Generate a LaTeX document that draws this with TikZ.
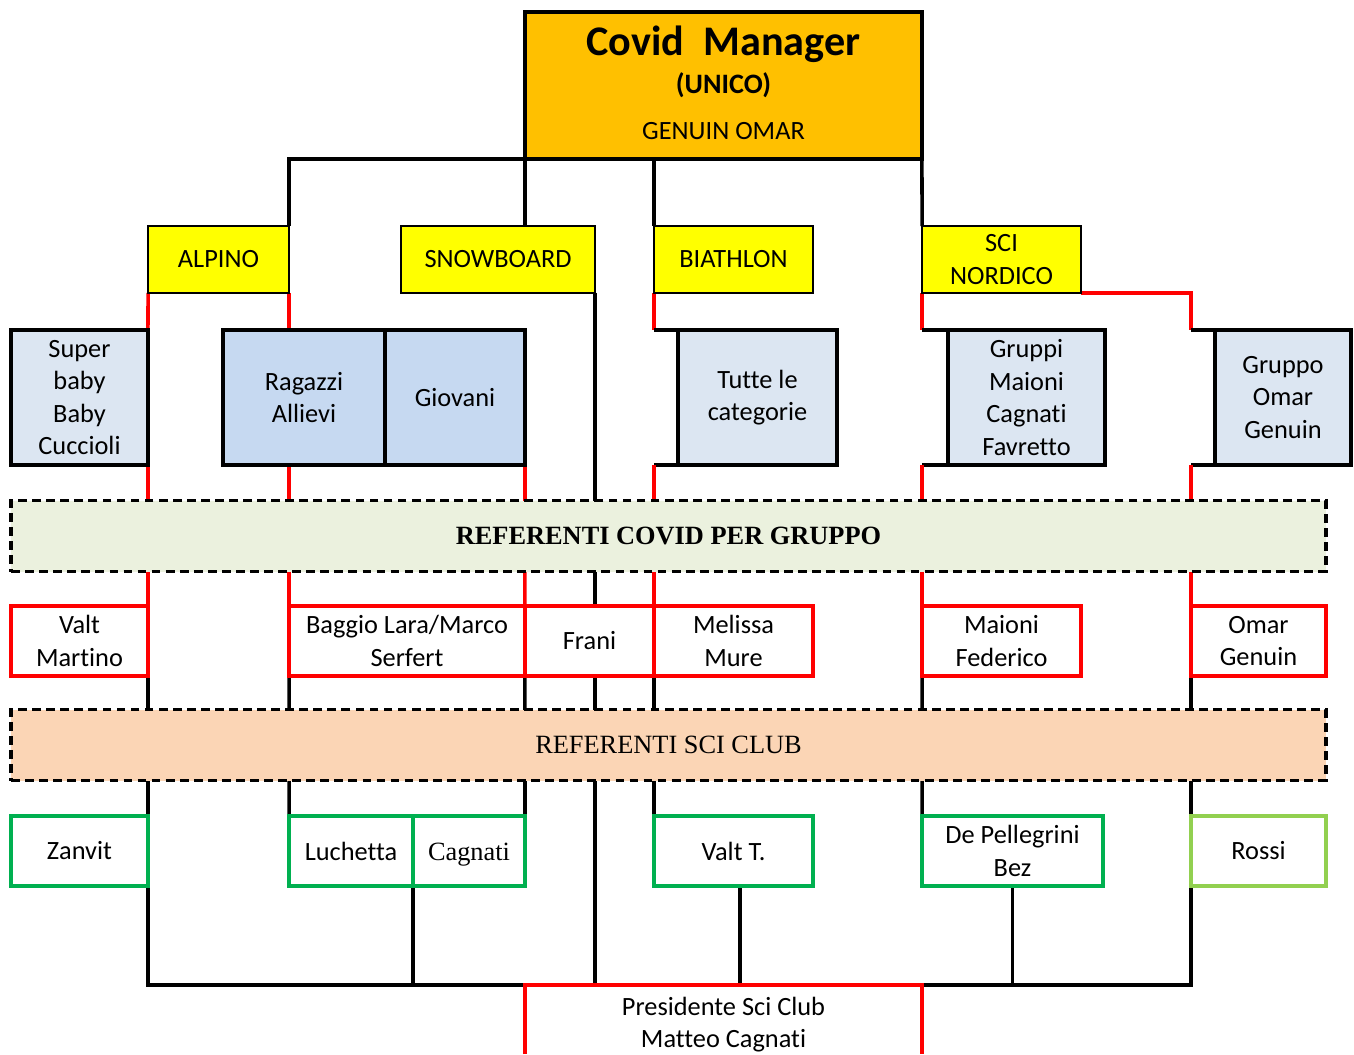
\documentclass[tikz,border=0pt]{standalone}
\usepackage{fontspec}
\setmainfont{Carlito}[Ligatures=NoCommon]
\newfontfamily\timesfont{Liberation Serif}
\usetikzlibrary{backgrounds}

\definecolor{mgrorange}{HTML}{FFC000}
\definecolor{sportyellow}{HTML}{FFFF00}
\definecolor{catpale}{HTML}{DCE6F2}
\definecolor{catblue}{HTML}{C6D9F1}
\definecolor{covidgreen}{HTML}{EBF1DE}
\definecolor{clubpeach}{HTML}{FBD5B5}
\definecolor{refred}{HTML}{FF0000}
\definecolor{clubgreen}{HTML}{00B050}
\definecolor{clublight}{HTML}{92D050}

\begin{document}
\begin{tikzpicture}[x=0.02cm, y=-0.02cm,
    every node/.style={font=\fontsize{15}{18.5}\selectfont, align=center,
      inner sep=0pt, outer sep=0pt},
    sportbox/.style={draw=black, line width=1pt, fill=sportyellow, minimum height=1.34cm},
    catbox/.style={draw=black, line width=2.2pt, minimum height=2.7cm},
    covidbox/.style={draw=refred, line width=2pt, fill=white, minimum height=1.4cm},
    clubbox/.style={draw=clubgreen, line width=2pt, fill=white, minimum height=1.4cm},
    bandbox/.style={draw=black, line width=2pt, dash pattern=on 5pt off 3pt,
      minimum width=26.3cm, minimum height=1.42cm},
    blackline/.style={draw=black, line width=2pt},
    redline/.style={draw=refred, line width=2pt}]
    \useasboundingbox (0,0) rectangle (1354,1054);
    % manager
    \node[draw, line width=2pt, fill=mgrorange, minimum width=7.94cm, minimum height=2.94cm]
    (manager) at (723.5,85.5)
    {{\fontsize{24}{28}\selectfont\bfseries Covid\ \ Manager}\\[3.5pt]
     {\fontsize{16}{19}\selectfont\bfseries (UNICO)}\\[7.5pt]
     GENUIN OMAR\rule[-3.5pt]{0pt}{0pt}};
    % disciplines
    \node[sportbox, minimum width=2.82cm] (alpino)    at (218.5,259.5)  {ALPINO};
    \node[sportbox, minimum width=3.88cm] (snowboard) at (498,259.5)    {SNOWBOARD};
    \node[sportbox, minimum width=3.18cm] (biathlon)  at (733.5,259.5)  {BIATHLON};
    \node[sportbox, minimum width=3.18cm] (nordico)   at (1001.5,259.5) {SCI\\NORDICO};
    % categories
    \node[catbox, fill=catpale, minimum width=2.74cm] (superbaby) at (79.5,397.5)   {Super\\baby\\Baby\\Cuccioli};
    \node[catbox, fill=catblue, minimum width=3.24cm] (ragazzi)   at (304,397.5)    {Ragazzi\\Allievi};
    \node[catbox, fill=catblue, minimum width=2.8cm]  (giovani)   at (455,397.5)    {Giovani};
    \node[catbox, fill=catpale, minimum width=3.18cm] (tutte)     at (757.5,397.5)  {Tutte le\\categorie};
    \node[catbox, fill=catpale, minimum width=3.14cm] (gruppi)    at (1026.5,397.5) {Gruppi\\Maioni\\Cagnati\\Favretto};
    \node[catbox, fill=catpale, minimum width=2.72cm] (gruppo)    at (1283,397.5)   {Gruppo\\Omar\\Genuin};
    % bands
    \node[bandbox, fill=covidgreen, font=\timesfont\fontsize{15}{18}\selectfont\bfseries]
    (covidband) at (668.5,536) {REFERENTI COVID PER GRUPPO};
    \node[bandbox, fill=clubpeach, font=\timesfont\fontsize{15}{18}\selectfont]
    (clubband) at (668.5,745) {REFERENTI SCI CLUB};
    % covid referents
    \node[covidbox, minimum width=2.74cm] (valt)    at (79.5,641)   {Valt\\Martino};
    \node[covidbox, minimum width=4.72cm] (baggio)  at (407,641)    {Baggio Lara/Marco\\Serfert};
    \node[covidbox, minimum width=2.58cm] (frani)   at (589.5,641)  {Frani};
    \node[covidbox, minimum width=3.18cm] (melissa) at (733.5,641)  {Melissa\\Mure};
    \node[covidbox, minimum width=3.18cm] (maioni)  at (1001.5,641) {Maioni\\Federico};
    \node[covidbox, minimum width=2.7cm]  (omar)    at (1258.5,641) {Omar\\Genuin};
    % club referents
    \node[clubbox, minimum width=2.74cm] (zanvit)     at (79.5,851)   {Zanvit};
    \node[clubbox, minimum width=2.48cm] (luchetta)   at (351,851)    {Luchetta};
    \node[clubbox, minimum width=2.24cm, font=\timesfont\fontsize{15}{18}\selectfont,
      text height=13.6pt, text depth=3.3pt]
    (cagnati) at (469,851) {Cagnati};
    \node[clubbox, minimum width=3.18cm] (valtt)      at (733.5,851)  {Valt T.};
    \node[clubbox, minimum width=3.62cm] (pellegrini) at (1012.5,851) {De Pellegrini\\Bez};
    \node[clubbox, draw=clublight, minimum width=2.7cm] (rossi) at (1258.5,851) {Rossi};
    % president
    \node[minimum width=7.94cm, minimum height=1.38cm] (presidente) at (723.5,1019.5)
    {\rule{0pt}{16pt}Presidente Sci Club\\Matteo Cagnati};

    \begin{scope}[on background layer]
    % stub corners beside the category boxes
    \coordinate (tutte-in)   at (biathlon.south west |- tutte.north);
    \coordinate (tutte-out)  at (biathlon.south west |- tutte.south);
    \coordinate (gruppi-in)  at (nordico.south west |- gruppi.north);
    \coordinate (gruppi-out) at (nordico.south west |- gruppi.south);
    \coordinate (gruppo-in)  at (omar.north west |- gruppo.north);
    \coordinate (gruppo-out) at (omar.north west |- gruppo.south);
    % manager to disciplines
    \draw[blackline] (manager.south west) -| (alpino.north east);
    \draw[blackline] (manager.south west) -- (manager.south west |- snowboard.north);
    \draw[blackline] (biathlon.north west |- manager.south) -- (biathlon.north west);
    \draw[blackline] (manager.south east) -- (nordico.north west);
    % disciplines to categories
    \draw[redline] (alpino.south west) -- (superbaby.north east);
    \draw[redline] (alpino.south east) -- (alpino.south east |- ragazzi.north);
    \draw[redline] (biathlon.south west) -- (tutte-in);
    \draw[redline] (nordico.south west) -- (gruppi-in);
    \draw[redline] (nordico.south east) -| (gruppo-in);
    \draw[blackline] (tutte-in) -- (tutte.north west);
    \draw[blackline] (tutte-out) -- (tutte.south west);
    \draw[blackline] (gruppi-in) -- (gruppi.north west);
    \draw[blackline] (gruppi-out) -- (gruppi.south west);
    \draw[blackline] (gruppo-in) -- (gruppo.north west);
    \draw[blackline] (gruppo-out) -- (gruppo.south west);
    % categories to covid referents
    \draw[redline] (superbaby.south east) -- (valt.north east);
    \draw[redline] (baggio.north west |- ragazzi.south) -- (baggio.north west);
    \draw[redline] (giovani.south east) -- (baggio.north east);
    \draw[redline] (tutte-out) -- (melissa.north west);
    \draw[redline] (gruppi-out) -- (maioni.north west);
    \draw[redline] (gruppo-out) -- (omar.north west);
    % covid referents to club referents
    \draw[blackline] (valt.south east) -- (zanvit.north east);
    \draw[blackline] (baggio.south west) -- (luchetta.north west);
    \draw[blackline] (baggio.south east) -- (cagnati.north east);
    \draw[blackline] (melissa.south west) -- (valtt.north west);
    \draw[blackline] (maioni.south west) -- (pellegrini.north west);
    \draw[blackline] (omar.south west) -- (rossi.north west);
    \draw[blackline] (snowboard.south east) -- (snowboard.south east |- presidente.north);
    % club referents to president
    \draw[blackline] (zanvit.south east) |- (presidente.north west);
    \draw[blackline] (luchetta.south east) -- (luchetta.south east |- presidente.north);
    \draw[blackline] ([xshift=0.13cm]valtt.south) -- ([xshift=0.13cm]valtt.south |- presidente.north);
    \draw[blackline] (pellegrini.south) -- (pellegrini.south |- presidente.north);
    \draw[blackline] (rossi.south west) |- (presidente.north east);
    \draw[redline] (presidente.south west) -- (presidente.north west)
      -- (presidente.north east) -- (presidente.south east);
    \end{scope}
\end{tikzpicture}
\end{document}
